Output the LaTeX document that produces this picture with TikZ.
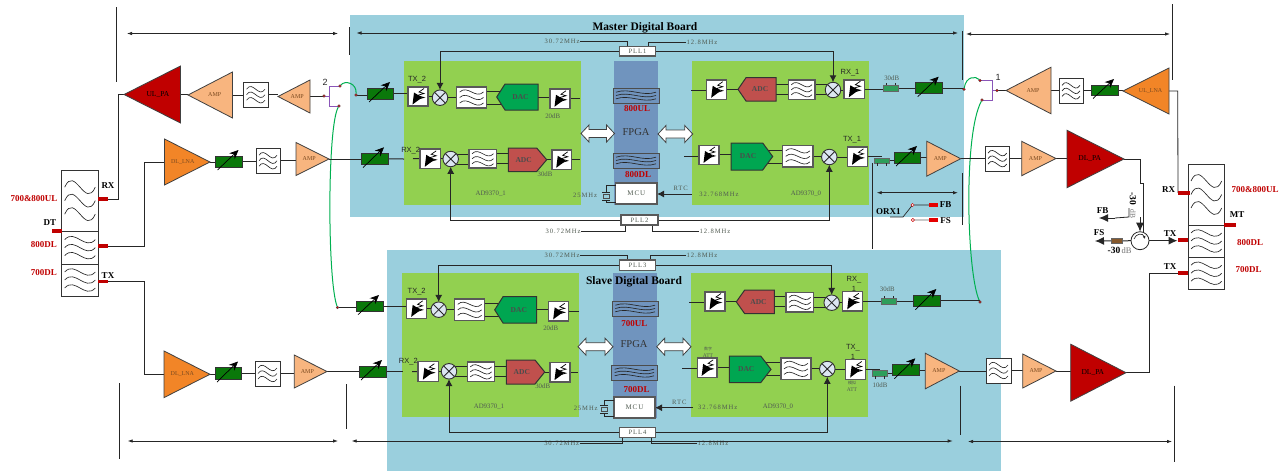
\documentclass[tikz,border=0pt]{standalone}
\usepackage{fontspec}
\setmainfont{Liberation Serif}
\newfontfamily\spc[LetterSpace=14]{Liberation Serif}
\newfontfamily\snsf{Liberation Sans}
\newfontfamily\cjk{Noto Sans CJK SC}
\usetikzlibrary{arrows.meta,calc}
\pgfdeclarelayer{bg}\pgfdeclarelayer{wl}\pgfsetlayers{bg,wl,main}
\definecolor{board}{HTML}{9ACFDD}
\definecolor{chip}{HTML}{92D050}
\definecolor{fpga}{HTML}{7094BE}
\definecolor{pared}{HTML}{C00000}
\definecolor{ampc}{HTML}{F8B57F}
\definecolor{lnac}{HTML}{F28527}
\definecolor{attc}{HTML}{0A780A}
\definecolor{dacc}{HTML}{00A651}
\definecolor{adcc}{HTML}{C0504D}
\definecolor{mixc}{HTML}{DCE6F2}
\definecolor{swp}{HTML}{8A55B8}
\definecolor{smallc}{HTML}{2E9E5B}
\definecolor{grnw}{HTML}{00B050}
\definecolor{tgray}{HTML}{505A50}
\definecolor{ampt}{HTML}{7B4A20}
\newcommand\fs[1]{\fontsize{#1}{#1}\selectfont}
\tikzset{
  base/.style={inner sep=0pt,outer sep=0pt},
  areabox/.style={base},
  whitebox/.style={base,draw=black!80,fill=white,line width=.8pt},
  heavybox/.style={base,draw=black!65,fill=white,line width=1.1pt},
  attbox/.style={base,draw=black!80,fill=attc,line width=.7pt},
  bandbox/.style={base,draw=black!70,fill=fpga,line width=.8pt},
  smallbox/.style={base,draw=black!60,fill=smallc,line width=.6pt},
  padbox/.style={base,fill=pared},
  resbox/.style={base,draw=black!60,fill=brown!70!black,line width=.5pt},
  wr/.style={line width=1pt,black!85},
  wv/.style={line width=.65pt,black!85},
  mixer/.style={base,circle,draw=black!80,fill=mixc,line width=.9pt,minimum size=15.5pt,
    path picture={\draw[black!85,line width=.8pt] (path picture bounding box.north west)--(path picture bounding box.south east)
      (path picture bounding box.north east)--(path picture bounding box.south west);}},
  dotn/.style={base,circle,draw=black!70,fill=red!85!black,line width=.3pt,minimum size=2.8pt},
  ringn/.style={base,circle,draw=red!80!black,fill=white,line width=.5pt,minimum size=3.2pt},
  txt/.style={inner sep=.5pt,outer sep=0pt,text=tgray},
  clk/.style={txt,font=\spc\fs{6.6}},
  sm/.style={txt,font=\fs{6.8}},
  sns/.style={inner sep=.5pt,text=black!85,font=\snsf\fs{7.5}},
  redl/.style={inner sep=.5pt,text=pared,font=\bfseries\fs{9}},
  blk/.style={inner sep=.5pt,text=black,font=\bfseries\fs{9}},
  ttl/.style={inner sep=.5pt,text=black,font=\bfseries\fs{11.5}},
  dimw/.style={line width=.75pt,black!85,{Latex[length=5pt,width=3.5pt]}-{Latex[length=5pt,width=3.5pt]}},
  tickline/.style={line width=.8pt,black!85},
  tomix/.style={wr,-{Latex[length=7pt,width=7pt]}},
  bigtip/.style={wr,-{Latex[length=9pt,width=8pt]}},
  att/.style={line width=.7pt,black,-{Stealth[length=9pt,width=8pt]}},
}
\newcounter{tn}
\newcommand\lab[4][]{\stepcounter{tn}\node[txt,#1] (t\arabic{tn}) at (#2,#3) {#4};}
\newcommand\bx[7]{\node[#6,minimum width={(#4-#2)*1pt},minimum height={(#5-#3)*1pt}] (#1) at ({(#2+#4)/2},{(#3+#5)/2}) {#7};}
% triangle: name, xtip, xbase, y, halfheight, fill, text size, text
\newcommand\tri[8]{\draw[black!75,line width=.8pt,fill=#6] (#2,{#4}) -- (#3,{#4-#5}) -- (#3,{#4+#5}) -- cycle;
  \coordinate (#1-tip) at (#2,#4); \coordinate (#1-base) at (#3,#4);
  \node[inner sep=0pt,font=\fs{#7},text=ampt] (#1) at ({#2+.6*(#3-#2)},#4) {#8};}
\newcommand\wav[5]{\foreach \k in {-1,0,1}{\draw[wv] ({(#1)-(#3)},{(#2)+\k*(#4)}) .. controls ({(#1)-(#3)/3},{(#2)+\k*(#4)-1.9*(#5)}) and ({(#1)+(#3)/3},{(#2)+\k*(#4)+1.9*(#5)}) .. ({(#1)+(#3)},{(#2)+\k*(#4)});}}
% filter: name x1 y1 x2 y2 style gap amp
\newcommand\flt[8]{\bx{#1}{#2}{#3}{#4}{#5}{#6}{}\wav{(#2+#4)/2}{(#3+#5)/2}{(#4-#2)/2-3}{#7}{#8}}
\newcommand\att[5]{\bx{#1}{#2}{#3}{#4}{#5}{attbox}{}\draw[att] ({#2+2},{#5+3}) -- ({#2+23},{#3-6});}
% digital attenuator
\newcommand\dat[5]{\bx{#1}{#2}{#3}{#4}{#5}{heavybox}{}
  \fill[black] ($(#1)+(-5.5pt,-8pt)$) -- ($(#1)+(-4pt,4pt)$) -- ($(#1)+(4pt,-1pt)$) -- cycle;
  \draw[line width=.7pt,black] ($(#1)+(-1pt,-3pt)$) -- ($(#1)+(6pt,-1pt)$) -- ($(#1)+(-1pt,1pt)$) -- ($(#1)+(6pt,3pt)$) -- ($(#1)+(1pt,4.5pt)$) -- ($(#1)+(6pt,8pt)$);}
% pentagon: name xflat xchamfer xtip y1 y2 fill text
\newcommand\pent[8]{\draw[black!80,line width=1pt,fill=#7] (#2,#5) -- (#3,#5) -- (#4,{(#5+#6)/2}) -- (#3,#6) -- (#2,#6) -- cycle;
  \node[inner sep=0pt,font=\bfseries\fs{7.5},text=black!70] (#1) at ({(#2+#3)/2+.12*(#4-#3)},{(#5+#6)/2}) {#8};}
% two-headed block arrow
\newcommand\bidi[4]{\draw[draw=black!75,fill=white,line width=.8pt] (#2,#4) -- ({#2+8},{#4-8.5}) -- ({#2+8},{#4-4}) -- ({#3-8},{#4-4}) -- ({#3-8},{#4-8.5}) -- (#3,#4) -- ({#3-8},{#4+8.5}) -- ({#3-8},{#4+4}) -- ({#2+8},{#4+4}) -- ({#2+8},{#4+8.5}) -- cycle; \coordinate (#1) at ({(#2+#3)/2},#4);}
\newcommand\hw[2]{\draw[wr] (#1) -- (#1 -| #2);}
\newcommand\dw[3]{\draw[wr] ([yshift=#3pt]#1.center) -- ([yshift=#3pt]#1.center -| #2.center) ([yshift=-#3pt]#1.center) -- ([yshift=-#3pt]#1.center -| #2.center);}
\newcommand\dimr[4]{\coordinate (#1a) at (#2,#3); \coordinate (#1b) at (#4,#3); \draw[dimw] (#1a) -- (#1b);}
\newcommand\vmk[4]{\coordinate (#1a) at (#2,#3); \coordinate (#1b) at (#2,#4); \draw[tickline] (#1a) -- (#1b);}
\begin{document}
\begin{tikzpicture}[x=1pt,y=-1pt]
\useasboundingbox (0,0) rectangle (1286,471);
\begin{pgfonlayer}{bg}
\fill[white] (0,0) rectangle (1286,471);
\bx{mboard}{350}{15}{964}{217}{areabox,fill=board}{}
\bx{sboard}{387}{250}{1001}{471}{areabox,fill=board}{}
\bx{mchipL}{404}{61}{581}{205}{areabox,fill=chip}{}
\bx{mchipR}{692}{61}{869}{205}{areabox,fill=chip}{}
\bx{schipL}{402}{273}{579}{417}{areabox,fill=chip}{}
\bx{schipR}{691}{273}{868}{417}{areabox,fill=chip}{}
\bx{mfpga}{614}{61}{658}{205}{areabox,fill=fpga}{}
\bx{sfpga}{613}{273}{657}{418}{areabox,fill=fpga}{}
\end{pgfonlayer}

% ---------- left filter bank
\flt{lb1}{61.7}{170}{98.3}{231.3}{whitebox}{13.5}{12}
\flt{lb2}{61.7}{231.3}{98.3}{264}{whitebox}{8}{6}
\flt{lb3}{61.7}{264}{98.3}{296}{whitebox}{8}{6}
\bx{plRX}{98}{197.3}{108}{200.7}{padbox}{}
\bx{plDT}{52}{229.3}{62}{232.7}{padbox}{}
\bx{pl8}{98}{244.3}{108}{247.7}{padbox}{}
\bx{pl7}{98}{280}{108}{283.4}{padbox}{}
\lab[blk]{108}{186}{RX}\lab[blk]{50}{223}{DT}\lab[blk]{108}{276}{TX}
\lab[redl]{34}{199}{700\&800UL}\lab[redl]{44}{245}{800DL}\lab[redl]{44}{273}{700DL}

% ---------- right filter bank
\flt{rb1}{1188}{164}{1224.7}{225}{whitebox}{13.5}{12}
\flt{rb2}{1188}{225}{1224.7}{257}{whitebox}{8}{6}
\flt{rb3}{1188}{257}{1224.7}{289.5}{whitebox}{8}{6}
\bx{prRX}{1178}{191}{1190}{194.6}{padbox}{}
\bx{prMT}{1224}{223}{1236}{226.6}{padbox}{}
\bx{prT8}{1177.5}{238.3}{1188}{241.9}{padbox}{}
\bx{prT7}{1177.5}{271.4}{1188}{275}{padbox}{}
\lab[blk]{1168.7}{189.7}{RX}\lab[blk]{1237}{215}{MT}\lab[blk]{1170}{234}{TX}\lab[blk]{1170}{267}{TX}
\lab[redl]{1255}{190}{700\&800UL}\lab[redl]{1250}{243}{800DL}\lab[redl]{1248.7}{270}{700DL}

% ---------- upper left RF chain
\tri{ulpa}{124}{180.5}{94.5}{28.5}{pared}{7.5}{\textcolor{black}{UL\_PA}}
\tri{amp1}{188}{232.5}{95}{23}{ampc}{6}{AMP}
\flt{f1}{243.5}{82.5}{268}{107}{whitebox}{5.5}{5}
\tri{amp2}{278}{310}{96.5}{16.5}{ampc}{6}{AMP}
\node[dotn] (swLin) at (324,96) {};
\node[dotn] (swLa) at (340,86) {};
\node[dotn] (swLb) at (339,106) {};
\coordinate (swLm) at (329.5,96);
\node[dotn] (mTin) at (356,95) {};
\node[dotn] (sTin) at (337.5,307.5) {};
\lab[sns,font=\snsf\fs{9}]{325}{82}{2}
\att{mA1}{367}{88}{393}{99}

% ---------- lower left RF chains
\tri{dlna}{210}{164.5}{162}{23}{lnac}{6}{DL\_LNA}
\att{a2}{215.5}{156}{242}{167}
\flt{f2}{256}{148.5}{280}{173}{whitebox}{5.5}{5}
\tri{amp3}{329}{296}{159}{16.5}{ampc}{6}{AMP}
\tri{dlna2}{210}{164}{374.3}{23.3}{lnac}{6}{DL\_LNA}
\att{a3}{215}{367.5}{241.7}{379}
\flt{f3}{255}{361}{280}{386}{whitebox}{5.5}{5}
\tri{amp4}{327}{294.3}{371.5}{16.5}{ampc}{6}{AMP}

% ---------- master left chip
\dat{mD1}{408}{87}{428}{106}
\node[mixer] (mM1) at (440,97.7) {};
\flt{mF1}{456.7}{87}{486.5}{108}{heavybox}{5.5}{4}
\pent{mDAC1}{538}{505}{496.7}{84}{110}{dacc}{DAC}
\dat{mD2}{550}{89}{570}{108.5}
\coordinate (mS1) at (580,99);
\lab[sns]{417}{80}{TX\_2}\lab[sm]{552.7}{116}{20dB}
\att{mA2}{361}{153.3}{388}{164.6}
\coordinate (mS2) at (404,159); \coordinate (mS3) at (413,158.5);
\dat{mD3}{420}{149}{440.5}{168.6}
\node[mixer] (mM2) at (450.7,159) {};
\flt{mF2}{469}{149.5}{496.5}{168}{heavybox}{5}{4}
\pent{mADC1}{508.3}{536.7}{546.7}{148}{171.5}{adcc}{ADC}
\dat{mD4}{552}{150}{571.5}{169.6}
\coordinate (mS4) at (580,159.7);
\lab[sns]{410.7}{151}{RX\_2}\lab[sm]{545}{174}{30dB}\lab[sm]{490.7}{194}{AD9370\_1}

% ---------- master FPGA
\flt{mB1}{613}{88}{659}{103}{bandbox}{3.3}{2.5}
\lab[redl]{637}{109}{800UL}
\lab[inner sep=.5pt,text=black!80,font=\fs{10.5}]{636}{132}{FPGA}
\flt{mB2}{613}{153}{659}{168}{bandbox}{3.3}{2.5}
\lab[redl]{638}{175}{800DL}
\bx{mMCU}{615.7}{183}{657}{204}{heavybox,text=tgray,font=\spc\fs{7}}{MCU}
\bidi{mBL}{581}{614.5}{133.5}
\bidi{mBR}{658}{692.7}{134}
\coordinate (mXa) at (606,185.7); \coordinate (mXb) at (606,202.7);
\draw[wv] (mXa -| mMCU.west) -- (mXa) -- (606,192) (602,192) -- (610,192) (602,200) -- (610,200) (606,200) -- (mXb) -- (mXb -| mMCU.west);
\bx{mXt}{603}{194}{609}{198}{areabox,draw=black!70,fill=none,line width=.5pt}{}
\lab[clk]{585}{195}{25MHz}

% ---------- master PLLs
\bx{pll1}{619.3}{46.7}{655.5}{56}{heavybox,text=tgray,font=\spc\fs{6.6}}{PLL1}
\bx{pll2}{621}{215}{658}{225}{heavybox,text=tgray,font=\spc\fs{6.6}}{PLL2}
\node[clk] (c1L) at (562,41) {30.72MHz};
\node[clk] (c1R) at (702,42) {12.8MHz};
\node[clk] (c2L) at (563,231) {30.72MHz};
\node[clk] (c2R) at (715,231) {12.8MHz};
\node[clk] (mRTC) at (680.7,188) {RTC};
\node[clk] (m32) at (719,194) {32.768MHz};
\coordinate (mRTCs) at (691.7,194);

% ---------- master right chip
\coordinate (mS5) at (691,90);
\dat{mD5}{706.7}{80}{726.7}{99.5}
\pent{mADC0}{776}{746}{738}{77.7}{101}{adcc}{ADC}
\flt{mF3}{788.3}{80}{815}{99.5}{heavybox}{5}{4}
\node[mixer] (mM3) at (833,90) {};
\dat{mD6}{844}{80}{864.7}{98.5}
\lab[sns]{850}{73}{RX\_1}\lab[sm]{891.7}{78}{30dB}
\bx{mS30}{883}{85}{898}{91}{smallbox}{}
\draw[wv] (886,83) -- (886,85) (895,83) -- (895,85);
\att{mA3}{915.7}{82.7}{942.7}{93.7}
\node[dotn] (mRout) at (964,89.3) {};
\coordinate (mS6) at (684,156);
\dat{mD7}{699}{145.3}{719}{164.6}
\pent{mDAC0}{731}{762.7}{772.7}{143}{170}{dacc}{DAC}
\flt{mF4}{782.7}{145.7}{813}{167}{heavybox}{5.5}{4}
\node[mixer] (mM4) at (829.3,157) {};
\dat{mD8}{847.3}{147}{867.7}{166.7}
\lab[sns]{852}{140}{TX\_1}\lab[sm]{806}{194}{AD9370\_0}
\bx{mS10}{874}{158}{889}{163}{smallbox}{}
\draw[wv] (877,163) -- (877,166) (886,163) -- (886,166);
\att{mA4}{894}{152}{920.7}{163}
\tri{amp5}{960.7}{926.7}{158.7}{17.5}{ampc}{6}{AMP}
\flt{f5}{985}{146.3}{1009.7}{171}{whitebox}{5.5}{5}
\tri{amp6}{1056}{1021.7}{158.5}{17.2}{ampc}{6}{AMP}
\tri{dlpa}{1124}{1067}{159}{28.7}{pared}{7.5}{\textcolor{black}{DL\_PA}}

% ---------- upper right RF chain
\node[dotn] (swRa) at (980,80.5) {};
\node[dotn] (swRb) at (982,100) {};
\node[dotn] (swRin) at (997,90.5) {};
\coordinate (swRm) at (992.3,90.5);
\lab[sns,font=\snsf\fs{9}]{998}{77}{1}
\tri{amp7}{1006}{1051}{90.5}{23.3}{ampc}{6}{AMP}
\flt{f7}{1059}{78.7}{1083}{103}{whitebox}{5.5}{5}
\att{a7}{1091}{85}{1118.7}{95.5}
\tri{ullna}{1123}{1169}{91}{23}{lnac}{6}{UL\_LNA}

% ---------- coupler and circulator
\node[base,circle,draw=black!85,fill=white,line width=.8pt,minimum size=18pt] (circ) at (1140,240.7) {};
\draw[wv,-{Latex[length=3pt,width=3pt]}] (1134,239) .. controls (1136,233) and (1143,233) .. (1145,239);
\bx{res}{1111}{238}{1122}{243.7}{resbox}{}
\coordinate (fbA) at (1099,218); \coordinate (fbB) at (1129,217); \coordinate (fbC) at (1129,208);
\coordinate (fsA) at (1095,241);
\coordinate (pdA) at (1140,159); \coordinate (pdB) at (1140,183); \coordinate (pdC) at (1143.5,183);
\lab[blk]{1102.7}{211}{FB}\lab[blk]{1099}{233}{FS}
\lab[inner sep=.5pt,rotate=-90,text=black,font=\bfseries\fs{9.5}]{1133}{199}{-30}
\lab[inner sep=.5pt,rotate=-90,text=black!55,font=\fs{7.5}]{1133}{214}{dB}
\node[inner sep=.5pt,text=black,font=\bfseries\fs{9.5},anchor=east] (t30) at (1121,250) {-30};
\node[inner sep=.5pt,text=black!55,font=\fs{8.5},anchor=west] (t30b) at (1121,250.5) {dB};

% ---------- ORX
\vmk{vO1}{872}{163}{249}\vmk{vO2}{962.3}{173}{225}
\dimr{dO}{876.7}{192.7}{958}
\node[inner sep=.5pt,text=black,font=\bfseries\fs{9}] (orx) at (888.3,212) {ORX1};
\node[ringn] (orA) at (912.5,205) {};
\node[ringn] (orB) at (912.8,220) {};
\bx{orFB}{929}{203}{938}{207.2}{areabox,fill=red!90!black}{}
\bx{orFS}{929}{218}{938}{222.2}{areabox,fill=red!90!black}{}
\lab[blk]{945.7}{205}{FB}\lab[blk]{945.7}{221}{FS}
\coordinate (orU) at (903,217); \coordinate (orU0) at (890,217);

% ---------- slave left chip
\att{sA1}{356}{301}{383.5}{311.7}
\dat{sD1}{406.7}{299}{426.7}{318.7}
\node[mixer] (sM1) at (438.7,309.7) {};
\flt{sF1}{454.7}{299}{484.7}{320.7}{heavybox}{5.5}{4}
\pent{sDAC1}{536.7}{503}{494.7}{296.7}{323}{dacc}{DAC}
\dat{sD2}{548.7}{301.7}{568.7}{321}
\coordinate (sS1) at (579,312);
\lab[sns]{416.7}{292}{TX\_2}\lab[sm]{550.7}{328}{20dB}
\att{sA2}{359}{366}{386.7}{377}
\coordinate (sS2) at (403,371.5); \coordinate (sS3) at (412,371.5);
\dat{sD3}{418}{361.7}{438.7}{381.7}
\node[mixer] (sM2) at (449,371.3) {};
\flt{sF2}{467.3}{362}{494.7}{381.7}{heavybox}{5}{4}
\pent{sADC1}{506.3}{535}{544.7}{360}{384}{adcc}{ADC}
\dat{sD4}{550}{362.3}{570}{382}
\coordinate (sS4) at (578,372);
\lab[sns]{408.3}{362}{RX\_2}\lab[sm]{542.7}{386.3}{30dB}\lab[sm]{489}{407}{AD9370\_1}

% ---------- slave FPGA
\flt{sB1}{612.3}{301}{658}{316}{bandbox}{3.3}{2.5}
\lab[redl]{634.3}{323.7}{700UL}
\lab[inner sep=.5pt,text=black!80,font=\fs{10.5}]{634}{344}{FPGA}
\flt{sB2}{611.7}{365}{657}{380}{bandbox}{3.3}{2.5}
\lab[redl]{636.7}{390}{700DL}
\bx{sMCU}{614}{397}{655}{418}{heavybox,text=tgray,font=\spc\fs{7}}{MCU}
\bidi{sBL}{578}{613}{346.7}
\bidi{sBR}{656.7}{691}{346.7}
\coordinate (sXa) at (604,400); \coordinate (sXb) at (604,416);
\draw[wv] (sXa -| sMCU.west) -- (sXa) -- (604,405) (600,405) -- (608,405) (600,413) -- (608,413) (604,413) -- (sXb) -- (sXb -| sMCU.west);
\bx{sXt}{601}{407}{607}{411}{areabox,draw=black!70,fill=none,line width=.5pt}{}
\lab[clk]{585.7}{408}{25MHz}
\node[ttl] (mTitle) at (645,28) {Master Digital Board};
\node[ttl] (sTitle) at (634,282) {Slave Digital Board};

% ---------- slave PLLs
\bx{pll3}{619.3}{260}{655.7}{270.7}{heavybox,text=tgray,font=\spc\fs{6.6}}{PLL3}
\bx{pll4}{619.3}{427.3}{655.7}{437.7}{heavybox,text=tgray,font=\spc\fs{6.6}}{PLL4}
\node[clk] (c3L) at (562,255) {30.72MHz};
\node[clk] (c3R) at (702,255) {12.8MHz};
\node[clk] (c4L) at (561.7,443.7) {30.72MHz};
\node[clk] (c4R) at (713,443.7) {12.8MHz};
\node[clk] (sRTC) at (679.3,402) {RTC};
\node[clk] (s32) at (717.7,407) {32.768MHz};
\coordinate (sRTCs) at (693,407.7);

% ---------- slave right chip
\coordinate (sS5) at (689,302);
\dat{sD5}{705}{292}{725}{311}
\pent{sADC0}{774.3}{744.7}{736.3}{290}{313.7}{adcc}{ADC}
\flt{sF3}{786}{292.7}{813.7}{312}{heavybox}{5}{4}
\node[mixer] (sM3) at (831.7,302.7) {};
\dat{sD6}{842.7}{291.7}{862.7}{311}
\lab[sns]{854}{280}{RX\_}\lab[sns]{854}{289}{1}\lab[sm]{887.3}{289.3}{30dB}
\bx{sS30}{881}{298.3}{896}{304}{smallbox}{}
\draw[wv] (884,296) -- (884,298.3) (893,296) -- (893,298.3);
\att{sA3}{913.3}{295}{940.7}{306.7}
\node[dotn] (sRout) at (980,302) {};
\coordinate (sS6) at (682.3,368);
\dat{sD7}{697.3}{358}{717}{377.7}
\lab[inner sep=0pt,text=tgray,font=\cjk\fs{4}]{708}{349}{数字}\lab[inner sep=0pt,text=tgray,font=\fs{5.5}]{708}{356}{ATT}
\pent{sDAC0}{729.3}{760.7}{771}{356}{382.7}{dacc}{DAC}
\flt{sF4}{781}{358}{811}{379.7}{heavybox}{5.5}{4}
\node[mixer] (sM4) at (827.3,369) {};
\dat{sD8}{845.7}{359.3}{865.7}{379.7}
\lab[sns]{853}{348}{TX\_}\lab[sns]{853}{356.5}{1}
\lab[inner sep=0pt,text=tgray,font=\cjk\fs{4}]{852}{383}{模拟}\lab[inner sep=0pt,text=tgray,font=\fs{5.5}]{852}{390}{ATT}
\lab[sm]{778}{407}{AD9370\_0}\lab[sm]{880}{385}{10dB}
\bx{sS10}{872}{370}{887}{376}{smallbox}{}
\draw[wv] (875,376) -- (875,379) (884,376) -- (884,379);
\att{sA4}{892.3}{364.3}{919}{375.7}
\tri{amp8}{959.3}{925.3}{371}{17.8}{ampc}{6}{AMP}
\flt{f8}{986}{358}{1011}{383}{whitebox}{5.5}{5}
\tri{amp9}{1056}{1022.7}{371}{17}{ampc}{6}{AMP}
\tri{dlpa2}{1126}{1070.7}{372.7}{28.5}{pared}{7.5}{\textcolor{black}{DL\_PA}}

% ---------- dimension marks
\vmk{v1}{116.3}{7}{82}\dimr{d1}{127}{33.5}{338}
\vmk{v2}{349}{27}{55}\dimr{d2}{356.5}{33}{958}
\vmk{v3}{962}{31}{80}\dimr{d3}{966}{34}{1170}
\vmk{v4}{1172}{4}{80}
\vmk{v5}{119.3}{383}{459}\dimr{d4}{127.7}{441}{338}
\vmk{v6}{346.7}{384}{429}\dimr{d5}{351.7}{441}{952.7}
\vmk{v7}{960.3}{385.7}{435}\dimr{d6}{968}{441.5}{1172}
\vmk{v8}{1174}{385.7}{461.7}

% ---------- connectors
\begin{pgfonlayer}{wl}
% left side
\coordinate (j1) at (118,94.5);
\draw[wr,line width=.8pt] (plRX.east) -| (j1) -- (ulpa-tip);
\hw{ulpa-base}{amp1-tip}\hw{amp1-base}{f1}\hw{f1}{amp2-tip}\hw{amp2-base}{swLin}
\draw[swp,line width=.8pt] (swLa) -| (swLm) |- (swLb) (swLm) -- (swLin);
\draw[grnw,line width=1pt] (swLa) .. controls (345,80) and (357,83) .. (mTin);
\draw[grnw,line width=1pt] (swLb) .. controls (327.3,125) and (327.3,280) .. (sTin);
\hw{mTin}{mA1}\hw{mA1}{mD1}\hw{mD1}{mM1}\hw{mM1}{mF1}
\dw{mF1}{mDAC1}{6.5}
\hw{mDAC1}{mD2}\hw{mD2}{mS1}
\coordinate (j2) at (144,162); \coordinate (j3) at (144,281.7); \coordinate (j4) at (144,374.3);
\draw[wr] (pl8.east) -| (j2) -- (dlna-base);
\draw[wr] (pl7.east) -| (j4) -- (dlna2-base);
\hw{dlna-tip}{a2}\hw{a2}{f2}\hw{f2}{amp3-base}
\draw[wr] (amp3-tip) -- (mA2.west |- amp3-tip);
\draw[wr] (mA2) -- (mS2); \draw[wr] (mS3) -- (mD3);
\hw{dlna2-tip}{a3}\hw{a3}{f3}\hw{f3}{amp4-base}
\draw[wr] (amp4-tip) -- (sA2.west |- amp4-tip);
\draw[wr] (sA2) -- (sS2); \draw[wr] (sS3) -- (sD3);
\hw{mD3}{mM2}\dw{mM2}{mF2}{5}\dw{mF2}{mADC1}{5}\hw{mADC1}{mD4}\hw{mD4}{mS4}
% master clocks
\draw[tomix] (pll1.west) -| (mM1.north);
\draw[tomix] (pll1.east) -| (mM3.north);
\draw[tomix] (pll2.west) -| (mM2.south);
\draw[tomix] (pll2.east) -| (mM4.south);
\draw[wr,line width=.8pt] (c1L.east) -| ([xshift=-10pt]pll1.north);
\draw[wr,line width=.8pt] (c1R.west) -| ([xshift=11pt]pll1.north);
\draw[wr,line width=.8pt] (c2L.east) -| ([xshift=-14pt]pll2.south);
\draw[wr,line width=.8pt] (c2R.west) -| ([xshift=13pt]pll2.south);
\draw[wr,-{Latex[length=7pt,width=7pt]}] (mRTCs) -- (mRTCs -| mMCU.east);
% master right
\hw{mS5}{mD5}\hw{mD5}{mADC0}\dw{mADC0}{mF3}{5}\dw{mF3}{mM3}{5}\hw{mM3}{mD6}
\hw{mD6}{mS30}\hw{mS30}{mA3}\hw{mA3}{mRout}
\draw[grnw,line width=1pt] (mRout) .. controls (966,76) and (976,76) .. (swRa);
\draw[swp,line width=.8pt] (swRa) -| (swRm) |- (swRb) (swRm) -- (swRin);
\draw[grnw,line width=1pt] (swRb) .. controls (963,135) and (967,275) .. (sRout);
\hw{swRin}{amp7-tip}\hw{amp7-base}{f7}\hw{f7}{a7}\hw{a7}{ullna-tip}
\coordinate (j5) at (1177.7,91);
\draw[wr,line width=.8pt] (ullna-base) -- (j5) -- (prRX.west);
\hw{mS6}{mD7}\hw{mD7}{mDAC0}\dw{mDAC0}{mF4}{6.5}\hw{mF4}{mM4}\hw{mM4}{mD8}
\hw{mD8}{mS10}\hw{mS10}{mA4}\hw{mA4}{amp5-base}\hw{amp5-tip}{f5}\hw{f5}{amp6-base}\hw{amp6-tip}{dlpa-base}
\draw[wr,line width=.8pt] (dlpa-tip) -- (pdA) -- (pdB) -- (pdC) -- (pdC |- circ.north);
\draw[bigtip] (1140,217) -- (circ.north);
\draw[wr,line width=.8pt] (fbC) -- (fbB) -- (1115,218);
\draw[bigtip] (1115,218) -- (fbA);
\draw[wr] (circ.west) -- (res.east);
\draw[bigtip] (res.west) -- (fsA);
\draw[bigtip] (circ.east) -- (prT8.west |- circ.east);
\coordinate (j6) at (1149.3,273.2);
\draw[wr] (prT7.west) -- (j6) |- (dlpa2-tip);
% ORX
\draw[wr,line width=.8pt] (orA) -- (orFB);
\draw[wr,line width=.8pt,black!60] (orB) -- (orFS);
\draw[wr,line width=.7pt] (orU0) -- (orU) -- (orA);
% slave top
\hw{sTin}{sA1}\hw{sA1}{sD1}\hw{sD1}{sM1}\hw{sM1}{sF1}\dw{sF1}{sDAC1}{6.5}\hw{sDAC1}{sD2}\hw{sD2}{sS1}
\hw{sD3}{sM2}\dw{sM2}{sF2}{5}\dw{sF2}{sADC1}{5}\hw{sADC1}{sD4}\hw{sD4}{sS4}
\draw[tomix] (pll3.west) -| (sM1.north);
\draw[tomix] (pll3.east) -| (sM3.north);
\draw[tomix] (pll4.west) -| (sM2.south);
\draw[tomix] (pll4.east) -| (sM4.south);
\draw[wr,line width=.8pt] (c3L.east) -| ([xshift=-10pt]pll3.north);
\draw[wr,line width=.8pt] (c3R.west) -| ([xshift=13pt]pll3.north);
\draw[wr,line width=.8pt] (c4L.east) -| ([xshift=-15pt]pll4.south);
\draw[wr,line width=.8pt] (c4R.west) -| ([xshift=14pt]pll4.south);
\draw[wr,-{Latex[length=7pt,width=7pt]}] (sRTCs) -- (sRTCs -| sMCU.east);
\hw{sS5}{sD5}\hw{sD5}{sADC0}\dw{sADC0}{sF3}{5}\dw{sF3}{sM3}{5}\hw{sM3}{sD6}
\hw{sD6}{sS30}\hw{sS30}{sA3}\hw{sA3}{sRout}
\hw{sS6}{sD7}\hw{sD7}{sDAC0}\dw{sDAC0}{sF4}{6.5}\hw{sF4}{sM4}\hw{sM4}{sD8}
\hw{sD8}{sS10}\hw{sS10}{sA4}\hw{sA4}{amp8-base}\hw{amp8-tip}{f8}\hw{f8}{amp9-base}\hw{amp9-tip}{dlpa2-base}
\end{pgfonlayer}
\end{tikzpicture}
\end{document}
